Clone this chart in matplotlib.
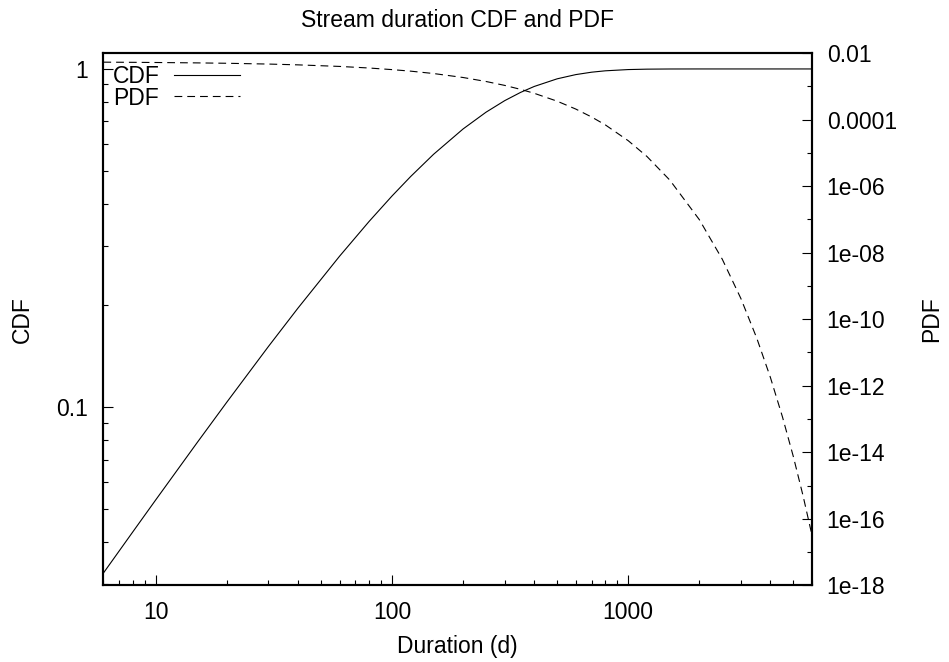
import matplotlib
matplotlib.use('Agg')
import matplotlib.pyplot as plt
from matplotlib.ticker import LogLocator, FuncFormatter, NullFormatter

# values
duration = [6, 8, 10, 15, 20, 30, 40, 60, 80, 100, 120, 150, 200, 250, 300, 350,
            400, 500, 600, 700, 800, 1000, 1200, 1500, 2000, 2500, 3000, 3500,
            4000, 4500, 5000, 5500, 6000]
cdf = [0.0323, 0.0428, 0.0532, 0.0787, 0.1035, 0.1512, 0.1963, 0.2795, 0.3541,
       0.4210, 0.4809, 0.5594, 0.6647, 0.7449, 0.8059, 0.8523, 0.8876, 0.9349,
       0.9623, 0.9782, 0.9874, 0.9958, 0.9986, 0.9997, 1.0, 1.0, 1.0, 1.0,
       1.0, 1.0, 1.0, 1.0, 1.0]
pdf = [5.29e-3, 5.23e-3, 5.17e-3, 5.03e-3, 4.90e-3, 4.64e-3, 4.39e-3, 3.94e-3,
       3.53e-3, 3.16e-3, 2.84e-3, 2.41e-3, 1.83e-3, 1.39e-3, 1.06e-3, 8.07e-4,
       6.14e-4, 3.56e-4, 2.06e-4, 1.19e-4, 6.90e-5, 2.31e-5, 7.76e-6, 1.51e-6,
       9.80e-8, 6.38e-9, 4.15e-10, 2.70e-11, 1.76e-12, 1.14e-13, 7.43e-15,
       4.84e-16, 3.15e-17]

plt.rcParams['font.family'] = ['Liberation Sans', 'DejaVu Sans']
plt.rcParams['font.size'] = 16.5

fig = plt.figure(figsize=(9.49, 6.62), dpi=100)
ax = fig.add_axes([0.1089, 0.1156, 0.7468, 0.8044])
ax2 = ax.twinx()

line_cdf, = ax.plot(duration, cdf, color='black', lw=0.8, label='CDF')
line_pdf, = ax2.plot(duration, pdf, color='black', lw=0.8, dashes=(7, 4.5), label='PDF')

ax.set_xscale('log')
ax.set_yscale('log')
ax2.set_yscale('log')
ax.set_xlim(6, 6000)
ax.set_ylim(0.0297, 1.115)
ax2.set_ylim(1e-18, 1e-2)

fmt = FuncFormatter(lambda v, _: '%g' % v)
ax.xaxis.set_major_formatter(fmt)
ax.yaxis.set_major_formatter(fmt)
ax.xaxis.set_minor_formatter(NullFormatter())
ax.yaxis.set_minor_formatter(NullFormatter())
ax2.yaxis.set_major_locator(LogLocator(base=100))
ax2.yaxis.set_minor_locator(LogLocator(base=100, subs=[10]))
ax2.yaxis.set_major_formatter(fmt)
ax2.yaxis.set_minor_formatter(NullFormatter())

ax.tick_params(which='both', direction='in', top=False, right=False, width=0.8)
ax.tick_params(which='major', length=7, pad=11)
ax.tick_params(which='minor', length=3.5)
ax2.tick_params(which='both', direction='in', width=0.8)
ax2.tick_params(which='major', length=7, pad=10.5)
ax2.tick_params(which='minor', length=3.5)

for a in (ax, ax2):
    for s in a.spines.values():
        s.set_linewidth(1.5)

ax.set_title('Stream duration CDF and PDF', fontsize=16.5, pad=19)
ax.set_xlabel('Duration (d)', labelpad=8)
ax.set_ylabel('CDF')
ax2.set_ylabel('PDF')
ax.yaxis.set_label_coords(-0.098, 0.5)
ax2.yaxis.set_label_coords(1.153, 0.5)

ax2.legend(handles=[line_cdf, line_pdf], loc='upper left', bbox_to_anchor=(-0.004, 1.0),
           frameon=False, markerfirst=False, handlelength=2.9, handletextpad=0.64,
           labelspacing=-0.06, borderpad=0.1, borderaxespad=0.42)

fig.savefig('out.png', dpi=100)
